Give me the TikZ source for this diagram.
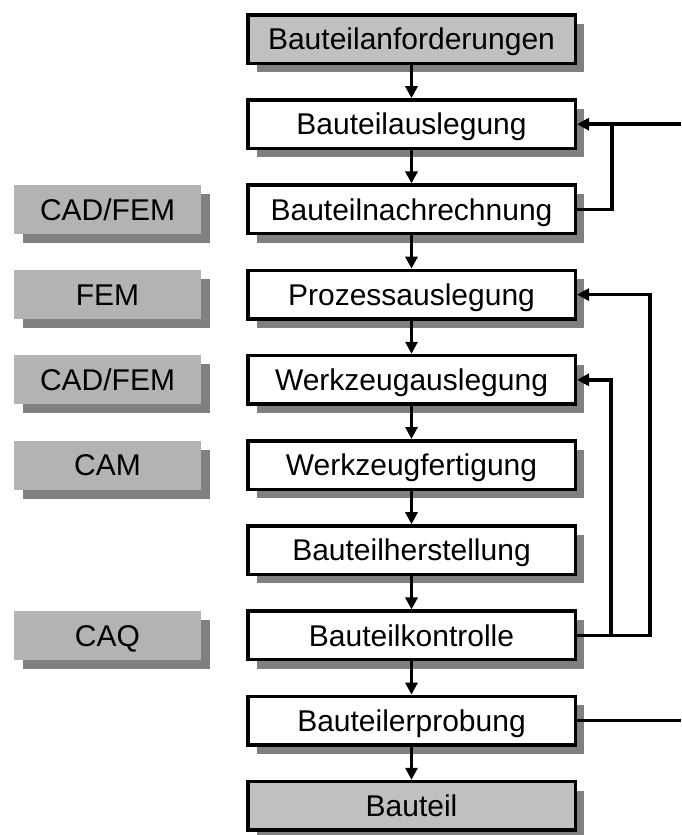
\documentclass[tikz,border=0pt]{standalone}
\usepackage{fontspec}
\setmainfont{Liberation Sans}
\usetikzlibrary{arrows.meta,shadows}
\definecolor{endgray}{HTML}{C0C0C0}
\definecolor{toolgray}{HTML}{B3B3B3}
\definecolor{shadowgray}{HTML}{808080}

\begin{document}
\begin{tikzpicture}[x=1pt,y=1pt,
  boxshadow/.style={drop shadow={shadow xshift=9pt,shadow yshift=-9pt,fill=shadowgray,opacity=1}},
  label/.style={font=\fontsize{30}{36}\selectfont,text height=21.5pt,text depth=0pt,inner sep=0pt},
  stage/.style={label,draw=black,line width=3.5pt,fill=white,
                minimum width=327.5pt,minimum height=48.5pt,boxshadow},
  endstage/.style={stage,fill=endgray},
  tool/.style={label,fill=toolgray,minimum width=187pt,minimum height=49pt,boxshadow},
  flow/.style={line width=3.5pt,-{Triangle[length=12pt,width=12pt]}},
  link/.style={line width=3.5pt}]

\useasboundingbox (0,0) rectangle (681,-835);

% process chain
\node[endstage] (s0) at (411.5,-39)    {Bauteilanforderungen};
\node[stage]    (s1) at (411.5,-124.2) {Bauteilauslegung};
\node[stage]    (s2) at (411.5,-209.4) {Bauteilnachrechnung};
\node[stage]    (s3) at (411.5,-294.6) {Prozessauslegung};
\node[stage]    (s4) at (411.5,-379.8) {Werkzeugauslegung};
\node[stage]    (s5) at (411.5,-465)   {Werkzeugfertigung};
\node[stage]    (s6) at (411.5,-550.2) {Bauteilherstellung};
\node[stage]    (s7) at (411.5,-635.4) {Bauteilkontrolle};
\node[stage]    (s8) at (411.5,-720.6) {Bauteilerprobung};
\node[endstage] (s9) at (411.5,-805.8) {Bauteil};

% supporting tools
\node[tool] (t2) at (107.5,-209.4) {CAD/FEM};
\node[tool] (t3) at (107.5,-294.6) {FEM};
\node[tool] (t4) at (107.5,-379.8) {CAD/FEM};
\node[tool] (t5) at (107.5,-465)   {CAM};
\node[tool] (t7) at (107.5,-635.4) {CAQ};

% main flow
\foreach \a/\b in {s0/s1,s1/s2,s2/s3,s3/s4,s4/s5,s5/s6,s6/s7,s7/s8,s8/s9}
  \draw[flow] (\a) -- (\b);

% feedback loops
\coordinate (in1) at (681,-124.2);
\coordinate (j1)  at (612,-124.2);
\draw[flow] (in1) -- (s1.east);
\draw[link] (s2.east) -| (j1);

\coordinate (k3) at (650,-294.6);
\coordinate (k7) at (611,-635.4);
\draw[flow] (s7.east) -| (k3) -- (s3.east);
\draw[flow] (k7) |- (s4.east);

\coordinate (out8) at (681,-720.6);
\draw[link] (s8.east) -- (out8);
\end{tikzpicture}
\end{document}
